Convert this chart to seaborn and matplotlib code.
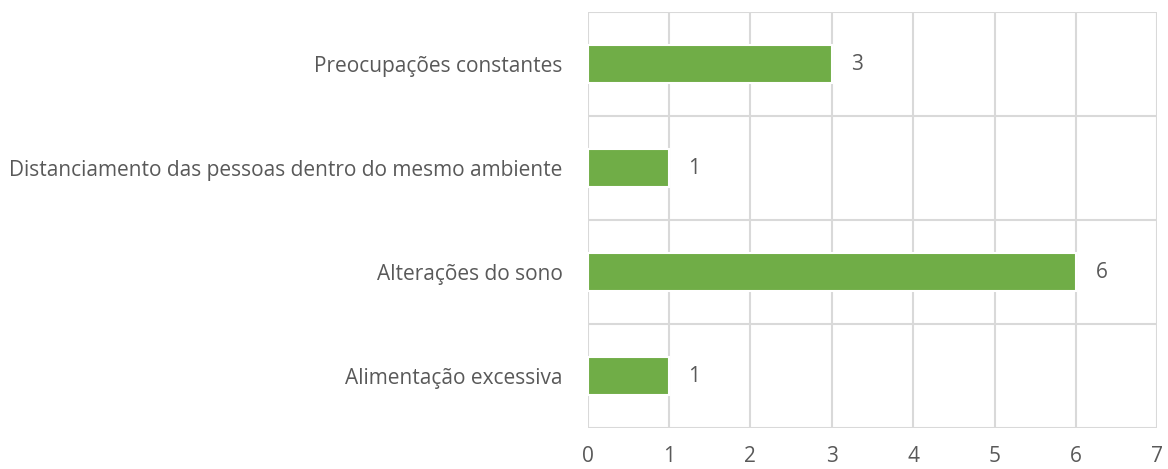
import matplotlib
matplotlib.use("Agg")
import matplotlib.pyplot as plt
import seaborn as sns
import pandas as pd
from matplotlib.ticker import MultipleLocator

# data
categories = [
    "Preocupações constantes",
    "Distanciamento das pessoas dentro do mesmo ambiente",
    "Alterações do sono",
    "Alimentação excessiva",
]
values = [3, 1, 6, 1]
x_ticks = [0, 1, 2, 3, 4, 5, 6, 7]

df = pd.DataFrame({"categoria": categories, "valor": values})

sns.set_style("white")
plt.rcParams["font.family"] = ["Open Sans", "DejaVu Sans"]

text_color = "#595959"
grid_color = "#d9d9d9"

fig = plt.figure(figsize=(11.68, 4.69), dpi=100)
ax = fig.add_axes([0.503, 0.087, 0.488, 0.887])

sns.barplot(data=df, x="valor", y="categoria", orient="h", color="#70ad47",
            saturation=1, width=0.37, edgecolor="white", linewidth=1.5,
            ax=ax, zorder=3)

ax.set_xlim(0, 7)
ax.set_ylim(3.5, -0.5)
ax.set_xticks(x_ticks)
ax.yaxis.set_minor_locator(MultipleLocator(1, offset=0.5))

ax.grid(axis="x", which="major", color=grid_color, linewidth=1.5, zorder=0)
ax.grid(axis="y", which="minor", color=grid_color, linewidth=1.5, zorder=0)
ax.set_axisbelow(True)

for s in ax.spines.values():
    s.set_visible(False)

ax.set_xlabel("")
ax.set_ylabel("")
ax.tick_params(axis="both", which="both", length=0, colors=text_color, labelsize=15)
ax.tick_params(axis="x", pad=13)
ax.tick_params(axis="y", pad=18)

ax.bar_label(ax.containers[0], padding=14, color=text_color, fontsize=15)

fig.savefig("out.png", dpi=100)
